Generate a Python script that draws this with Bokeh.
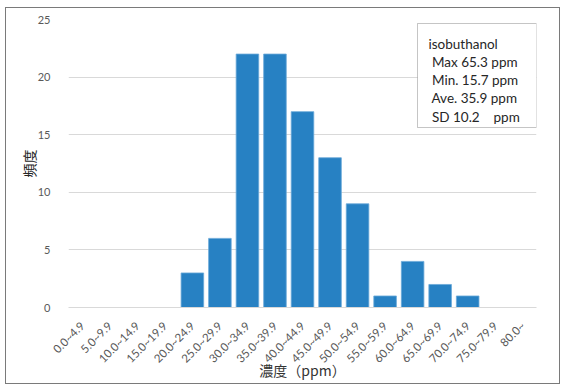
import math

from bokeh.embed import file_html
from bokeh.models import BoxAnnotation, ColumnDataSource, FactorRange, Label, Range1d
from bokeh.plotting import figure
from bokeh.resources import INLINE

# Concentration bins and their frequencies
categories = ["0.0~4.9", "5.0~9.9", "10.0~14.9", "15.0~19.9", "20.0~24.9",
              "25.0~29.9", "30.0~34.9", "35.0~39.9", "40.0~44.9", "45.0~49.9",
              "50.0~54.9", "55.0~59.9", "60.0~64.9", "65.0~69.9", "70.0~74.9",
              "75.0~79.9", "80.0~"]
counts = [0, 0, 0, 0, 3, 6, 22, 22, 17, 13, 9, 1, 4, 2, 1, 0, 0]
y_ticks = [0, 5, 10, 15, 20, 25]

# Summary statistics shown in the box
stat_title = "isobuthanol"
stat_names = ["Max", "Min.", "Ave.", "SD"]
stat_values = [65.3, 15.7, 35.9, 10.2]
stat_unit = "ppm"

LATIN = "Lato"
CJK = "Noto Sans CJK JP"
GRAY = "#595959"

p = figure(frame_width=468, frame_height=288,
           x_range=FactorRange(*categories, range_padding=0),
           y_range=Range1d(0, 25), output_backend="svg", toolbar_location=None,
           min_border_left=62, min_border_right=23, min_border_top=11, min_border_bottom=76)
p.margin = (7, 0, 0, 5)
p.styles = {"border": "1px solid #7a7a7a"}
p.outline_line_color = None

src = ColumnDataSource(dict(cat=categories, n=counts))
p.vbar(x="cat", top="n", width=0.82, source=src, fill_color="#2781c3",
       line_color="#6aa8d8", line_width=0.8)

p.xgrid.grid_line_color = None
p.ygrid.grid_line_color = "#d9d9d9"
p.yaxis.ticker = y_ticks
p.yaxis.axis_line_color = None
p.yaxis.major_tick_line_color = None
p.yaxis.minor_tick_line_color = None
p.yaxis.major_label_text_font = LATIN
p.yaxis.major_label_text_font_size = "11px"
p.yaxis.major_label_text_color = GRAY
p.yaxis.major_label_standoff = 12
p.yaxis.axis_label = "頻度"
p.yaxis.axis_label_text_font = CJK
p.yaxis.axis_label_text_font_size = "14px"
p.yaxis.axis_label_text_font_style = "normal"
p.yaxis.axis_label_text_color = "#262626"
p.yaxis.axis_label_standoff = -4

p.xaxis.axis_line_color = "#d9d9d9"
p.xaxis.major_tick_line_color = None
p.xaxis.minor_tick_line_color = None
p.xaxis.major_label_orientation = math.pi / 4
p.xaxis.major_label_text_font = LATIN
p.xaxis.major_label_text_font_size = "11.5px"
p.xaxis.major_label_text_color = GRAY
p.xaxis.major_label_standoff = 10
p.xaxis.axis_label = "濃度（ppm）"
p.xaxis.axis_label_text_font = CJK
p.xaxis.axis_label_text_font_size = "14px"
p.xaxis.axis_label_text_font_style = "normal"
p.xaxis.axis_label_text_color = "#333333"
p.xaxis.axis_label_standoff = -13

# Statistics box (screen units measured from the frame's lower-left corner)
box = BoxAnnotation(left=349, right=468, top=284, bottom=180,
                    left_units="screen", right_units="screen",
                    top_units="screen", bottom_units="screen",
                    fill_color="white", fill_alpha=1.0,
                    line_color="#404040", line_width=1)
p.add_layout(box)

lines = [stat_title] + [
    "\u00a0" + f"{nm} {v:.1f}" + ("\u00a0\u00a0\u00a0 " if nm == "SD" else " ") + stat_unit
    for nm, v in zip(stat_names, stat_values)
]
for i, t in enumerate(lines):
    p.add_layout(Label(x=360, y=264 - i * 18.3, x_units="screen", y_units="screen",
                       text=t, text_font=LATIN, text_font_size="13.5px",
                       text_color="#262626", text_baseline="alphabetic"))

open("out.html", "w").write(file_html(p, INLINE))
